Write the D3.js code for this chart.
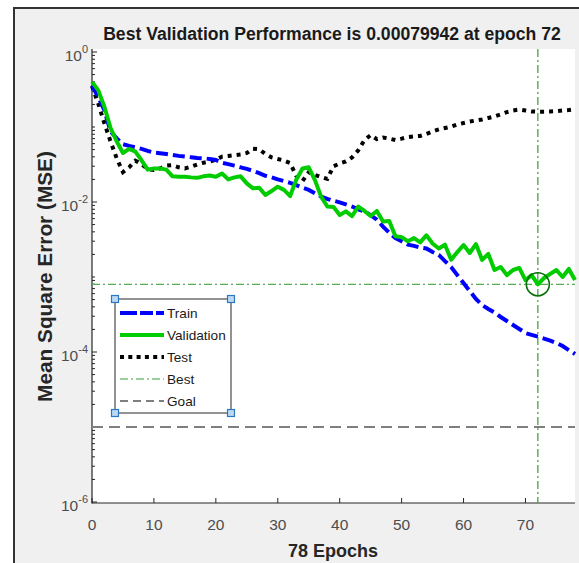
<!DOCTYPE html>
<html>
<head>
<meta charset="utf-8">
<script src="https://cdnjs.cloudflare.com/ajax/libs/d3/7.8.5/d3.min.js"></script>
<style>
  body { margin: 0; background: #fff; }
  text { font-family: "Liberation Sans", Arial, Helvetica, sans-serif; }
</style>
</head>
<body>
<div id="chart"></div>
<script>
// Performance values, one per epoch (0..78)
var epochs = d3.range(0, 79);

var trainMSE = [0.36, 0.25, 0.168, 0.087, 0.0705, 0.059, 0.056, 0.0537, 0.051, 0.048,
  0.0455, 0.0447, 0.0437, 0.0424, 0.0412, 0.0403, 0.0395, 0.0387, 0.0383, 0.0375,
  0.0363, 0.0334, 0.032, 0.0305, 0.029, 0.0276, 0.026, 0.0242, 0.0224, 0.0213,
  0.02, 0.019, 0.018, 0.0168, 0.0155, 0.0145, 0.0131, 0.0118, 0.011, 0.0104,
  0.0099, 0.0093, 0.0087, 0.008, 0.0075, 0.0067, 0.0058, 0.0047, 0.0039, 0.0033,
  0.003, 0.0027, 0.0026, 0.00247, 0.0024, 0.00215, 0.00197, 0.00163, 0.00136, 0.00106,
  0.00083, 0.00065, 0.00051, 0.000423, 0.000374, 0.000336, 0.000293, 0.000259, 0.000229, 0.000203,
  0.000179, 0.000169, 0.00016, 0.000151, 0.000142, 0.000132, 0.00012, 0.000106, 0.000094];

var validationMSE = [0.40, 0.31, 0.186, 0.097, 0.064, 0.045, 0.051, 0.047, 0.036, 0.027,
  0.028, 0.028, 0.027, 0.022, 0.0217, 0.0217, 0.0213, 0.021, 0.022, 0.0226,
  0.0217, 0.024, 0.02, 0.0213, 0.022, 0.0177, 0.0152, 0.0155, 0.0124, 0.014,
  0.016, 0.0145, 0.012, 0.02, 0.028, 0.029, 0.0196, 0.0118, 0.0087, 0.0086,
  0.0067, 0.0075, 0.0065, 0.0087, 0.0076, 0.0065, 0.0076, 0.0055, 0.0056, 0.0035,
  0.0034, 0.003, 0.0033, 0.0029, 0.0036, 0.0028, 0.0024, 0.0027, 0.0017, 0.00215,
  0.00267, 0.00209, 0.00275, 0.00169, 0.00203, 0.00124, 0.00136, 0.00106, 0.00124, 0.00132,
  0.00091, 0.00106, 0.00079942, 0.00097, 0.0011, 0.00124, 0.001, 0.00128, 0.00091];

var testMSE = [0.352, 0.207, 0.112, 0.064, 0.038, 0.025, 0.029, 0.0356, 0.032, 0.0273,
  0.0267, 0.028, 0.0305, 0.031, 0.029, 0.028, 0.0296, 0.0317, 0.0334, 0.0345,
  0.0368, 0.0402, 0.041, 0.042, 0.043, 0.045, 0.0514, 0.0504, 0.0436, 0.0394,
  0.0375, 0.0356, 0.033, 0.0222, 0.019, 0.025, 0.0229, 0.0215, 0.0203, 0.03,
  0.0326, 0.0347, 0.0393, 0.049, 0.067, 0.078, 0.069, 0.0725, 0.07, 0.067,
  0.07, 0.0735, 0.075, 0.076, 0.081, 0.087, 0.093, 0.097, 0.101, 0.108,
  0.113, 0.118, 0.122, 0.126, 0.132, 0.138, 0.147, 0.158, 0.166, 0.171,
  0.166, 0.161, 0.16, 0.16, 0.161, 0.163, 0.166, 0.168, 0.172];

var bestEpoch = 72;
var bestValue = 0.00079942;
var goalValue = 1e-5;

var xTicks = [0, 10, 20, 30, 40, 50, 60, 70];
var yTickExponents = [0, -2, -4, -6];

var legendNames = ["Train", "Validation", "Test", "Best", "Goal"];

var width = 579, height = 563;

var svg = d3.select("#chart").append("svg")
    .attr("width", width)
    .attr("height", height);

// figure background with dark frame
svg.append("rect")
    .attr("x", 14).attr("y", 8)
    .attr("width", width + 10).attr("height", height + 10)
    .style("fill", "#f0f0f0")
    .style("stroke", "#333")
    .style("stroke-width", 2);

var x = d3.scaleLinear().domain([0, 78]).range([92, 575]);
var y = d3.scaleLog().domain([1e-6, 1]).range([502, 52]);

// plot area
svg.append("rect")
    .attr("x", x(0)).attr("y", 49)
    .attr("width", x(78) - x(0)).attr("height", 503 - 49)
    .style("fill", "#fff");

// title
svg.append("text")
    .attr("x", 332).attr("y", 40)
    .attr("text-anchor", "middle")
    .style("font-size", "17.6px").style("font-weight", "bold")
    .style("fill", "#1a1a1a")
    .text("Best Validation Performance is 0.00079942 at epoch 72");

// axis labels
svg.append("text")
    .attr("transform", "translate(51.5,276.5) rotate(-90)")
    .attr("text-anchor", "middle")
    .style("font-size", "20.8px").style("font-weight", "bold")
    .style("fill", "#262626")
    .text("Mean Square Error (MSE)");

svg.append("text")
    .attr("x", 333).attr("y", 557)
    .attr("text-anchor", "middle")
    .style("font-size", "18px").style("font-weight", "bold")
    .style("fill", "#262626")
    .text("78 Epochs");

// axes: MATLAB style, ticks pointing inward
var axisColor = "#262626";
var axes = svg.append("g");

axes.append("line")
    .attr("x1", x(0)).attr("x2", x(0))
    .attr("y1", 49).attr("y2", 503.5)
    .style("stroke", axisColor).style("stroke-width", 1.2);
axes.append("line")
    .attr("x1", x(0)).attr("x2", x(78))
    .attr("y1", 503).attr("y2", 503)
    .style("stroke", axisColor).style("stroke-width", 1.2);

// y minor ticks
var minorTicks = [];
for (var e = -6; e < 0; e++) {
  for (var m = 1; m < 10; m++) {
    if (m === 1 && e % 2 === 0) continue;
    minorTicks.push(m * Math.pow(10, e));
  }
}
axes.selectAll(".ytick-minor")
    .data(minorTicks)
    .enter().append("line")
    .attr("class", "ytick-minor")
    .attr("x1", x(0)).attr("x2", x(0) + 3)
    .attr("y1", function(d) { return y(d); })
    .attr("y2", function(d) { return y(d); })
    .style("stroke", axisColor).style("stroke-width", 1);

axes.selectAll(".ytick")
    .data(yTickExponents)
    .enter().append("line")
    .attr("class", "ytick")
    .attr("x1", x(0)).attr("x2", x(0) + 5)
    .attr("y1", function(d) { return y(Math.pow(10, d)); })
    .attr("y2", function(d) { return y(Math.pow(10, d)); })
    .style("stroke", axisColor).style("stroke-width", 1);

var yLabels = axes.selectAll(".ylabel")
    .data(yTickExponents)
    .enter().append("text")
    .attr("class", "ylabel")
    .attr("x", 88)
    .attr("y", function(d) { return y(Math.pow(10, d)) + 8.5; })
    .attr("text-anchor", "end")
    .style("font-size", "15.5px")
    .style("fill", "#4d4d4d");
yLabels.append("tspan").text("10");
yLabels.append("tspan")
    .attr("dy", -8)
    .style("font-size", "11px")
    .text(function(d) { return d === 0 ? "0" : "-" + Math.abs(d); });

axes.selectAll(".xtick")
    .data(xTicks)
    .enter().append("line")
    .attr("class", "xtick")
    .attr("x1", function(d) { return x(d); })
    .attr("x2", function(d) { return x(d); })
    .attr("y1", 503).attr("y2", 498)
    .style("stroke", axisColor).style("stroke-width", 1);

axes.selectAll(".xlabel")
    .data(xTicks)
    .enter().append("text")
    .attr("class", "xlabel")
    .attr("x", function(d) { return x(d); })
    .attr("y", 530)
    .attr("text-anchor", "middle")
    .style("font-size", "15.5px")
    .style("fill", "#4d4d4d")
    .text(function(d) { return d; });

// goal and best lines
svg.append("line")
    .attr("x1", x(0)).attr("x2", x(78))
    .attr("y1", y(goalValue)).attr("y2", y(goalValue))
    .style("stroke", "#7f7f7f").style("stroke-width", 2)
    .style("stroke-dasharray", "11,6");

svg.append("line")
    .attr("x1", x(0)).attr("x2", x(78))
    .attr("y1", y(bestValue)).attr("y2", y(bestValue))
    .style("stroke", "#55aa55").style("stroke-width", 1.3)
    .style("stroke-dasharray", "8,3,2,3");

svg.append("line")
    .attr("x1", x(bestEpoch)).attr("x2", x(bestEpoch))
    .attr("y1", 49).attr("y2", 503)
    .style("stroke", "#3c9a3c").style("stroke-width", 1.2)
    .style("stroke-dasharray", "8,3,2,3");

// performance curves
var line = d3.line()
    .x(function(d, i) { return x(epochs[i]); })
    .y(function(d) { return y(d); });

svg.append("path")
    .datum(testMSE)
    .attr("d", line)
    .style("fill", "none")
    .style("stroke", "#000").style("stroke-width", 4)
    .style("stroke-dasharray", "4,5");

svg.append("path")
    .datum(trainMSE)
    .attr("d", line)
    .style("fill", "none")
    .style("stroke", "#0000ff").style("stroke-width", 4)
    .style("stroke-dasharray", "12,5");

svg.append("path")
    .datum(validationMSE)
    .attr("d", line)
    .style("fill", "none")
    .style("stroke", "#00cc00").style("stroke-width", 4)
    .style("stroke-linejoin", "round");

// best point circle
svg.append("circle")
    .attr("cx", x(bestEpoch)).attr("cy", y(bestValue))
    .attr("r", 11.5)
    .style("fill", "none")
    .style("stroke", "#0b6e0b").style("stroke-width", 1.6);

// legend
var legendStyles = [
  { color: "#0000ff", width: 4, dash: "17,3,13,3,8" },
  { color: "#00cc00", width: 4, dash: null },
  { color: "#000", width: 4, dash: "4,4.3" },
  { color: "#3c9a3c", width: 1.2, dash: "8,3,2,3" },
  { color: "#000", width: 1.2, dash: "8,5" }
];

var legend = svg.append("g").attr("class", "legend");
legend.append("rect")
    .attr("x", 115).attr("y", 299)
    .attr("width", 116).attr("height", 114)
    .style("fill", "#fff")
    .style("stroke", "#262626").style("stroke-width", 1);

var itemY = function(i) { return 313 + i * 22; };

legendNames.forEach(function(name, i) {
  var s = legendStyles[i];
  legend.append("line")
    .attr("x1", 120).attr("x2", 164)
    .attr("y1", itemY(i)).attr("y2", itemY(i))
    .style("stroke", s.color).style("stroke-width", s.width)
    .style("stroke-dasharray", s.dash);
  legend.append("text")
    .attr("x", 167).attr("y", itemY(i) + 5.3)
    .style("font-size", "13.6px")
    .style("fill", "#1a1a1a")
    .text(name);
});

// selection handles on legend corners
[[115, 299], [231, 299], [115, 413], [231, 413]].forEach(function(p) {
  legend.append("rect")
    .attr("x", p[0] - 3.5).attr("y", p[1] - 3.5)
    .attr("width", 7).attr("height", 7)
    .style("fill", "#bcd9f2")
    .style("stroke", "#2b79c2").style("stroke-width", 1.2);
});
</script>
</body>
</html>
